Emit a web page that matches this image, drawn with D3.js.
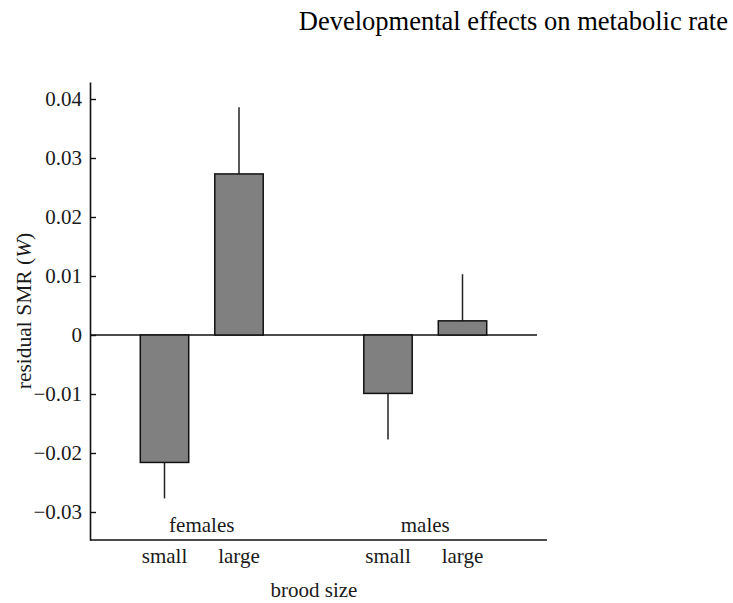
<!DOCTYPE html>
<html>
<head>
<meta charset="utf-8">
<script src="https://cdn.jsdelivr.net/npm/d3@7"></script>
<style>
  html, body { margin: 0; padding: 0; background: #fff; }
  svg { display: block; }
  text { font-family: "Liberation Serif", "Times New Roman", serif; fill: #111; }
</style>
</head>
<body>
<svg id="chart" width="733" height="603"></svg>
<script>
// Residual standard metabolic rate by sex and brood size
const sexes = ["females", "males"];
const broodSizes = ["small", "large"];
const femaleMeans = [-0.0216, 0.0273];
const maleMeans = [-0.0099, 0.0024];
const femaleSE = [0.0061, 0.0113];
const maleSE = [0.0078, 0.0079];
const yTicks = [-0.03, -0.02, -0.01, 0, 0.01, 0.02, 0.03, 0.04];

const rows = [];
sexes.forEach((sex, i) => {
  const means = i === 0 ? femaleMeans : maleMeans;
  const ses = i === 0 ? femaleSE : maleSE;
  broodSizes.forEach((b, j) => rows.push({ sex, brood: b, mean: means[j], se: ses[j] }));
});

const serif = "'Liberation Serif', 'Times New Roman', serif";
const svg = d3.select("#chart");
const plotLeft = 90, plotRight = 537, axisEnd = 547, plotTop = 82, plotBottom = 540;

const y = d3.scaleLinear().domain([-0.034746, 0.042881]).range([plotBottom, plotTop]);
const xGroup = d3.scalePoint().domain(sexes).range([plotLeft, plotRight]).padding(0.5);
const xInner = d3.scaleBand().domain(broodSizes).range([-74.5, 74.5])
  .paddingInner(0.35).paddingOuter(0.175);
const barX = d => xGroup(d.sex) + xInner(d.brood);
const barC = d => barX(d) + xInner.bandwidth() / 2;

// title
svg.append("text")
  .attr("x", 728).attr("y", 30)
  .attr("text-anchor", "end")
  .style("font-size", "26.5px")
  .style("fill", "#000")
  .text("Developmental effects on metabolic rate");

// y axis with inward ticks
const fmt = v => v === 0 ? "0" : (v < 0 ? "\u2212" : "") + Math.abs(v).toFixed(2);
const yAxis = d3.axisLeft(y).tickValues(yTicks).tickFormat(fmt)
  .tickSizeInner(-6).tickSizeOuter(0).tickPadding(8);
const gy = svg.append("g").attr("transform", `translate(${plotLeft},0)`).call(yAxis)
  .attr("font-family", serif).attr("font-size", 21);
gy.select(".domain").attr("stroke", "#111").attr("stroke-width", 1.6);
gy.selectAll(".tick line").attr("stroke", "#111").attr("stroke-width", 1.4);
gy.selectAll(".tick text")
  .style("font-family", serif)
  .style("font-size", "21px").style("fill", "#1a1a1a");

// bottom axis line
svg.append("line")
  .attr("x1", plotLeft).attr("x2", axisEnd)
  .attr("y1", plotBottom).attr("y2", plotBottom)
  .attr("stroke", "#111").attr("stroke-width", 1.6);

// zero reference line
svg.append("line")
  .attr("x1", plotLeft).attr("x2", plotRight)
  .attr("y1", y(0)).attr("y2", y(0))
  .attr("stroke", "#111").attr("stroke-width", 1.3);

// error bars (one-sided, away from zero)
svg.append("g").selectAll("line").data(rows).join("line")
  .attr("x1", barC).attr("x2", barC)
  .attr("y1", d => y(d.mean))
  .attr("y2", d => y(d.mean + Math.sign(d.mean) * d.se))
  .attr("stroke", "#222").attr("stroke-width", 1.5);

// bars
svg.append("g").selectAll("rect").data(rows).join("rect")
  .attr("x", barX)
  .attr("width", xInner.bandwidth())
  .attr("y", d => y(Math.max(0, d.mean)))
  .attr("height", d => Math.abs(y(d.mean) - y(0)))
  .attr("fill", "#808080")
  .attr("stroke", "#111").attr("stroke-width", 1.5);

// group labels
svg.append("g").selectAll("text").data(sexes).join("text")
  .attr("x", d => xGroup(d)).attr("y", 531.5)
  .attr("text-anchor", "middle")
  .style("font-size", "21px").style("fill", "#1a1a1a")
  .text(d => d);

// brood size labels
svg.append("g").selectAll("text").data(rows).join("text")
  .attr("x", barC).attr("y", 563)
  .attr("text-anchor", "middle")
  .style("font-size", "21px").style("fill", "#1a1a1a")
  .text(d => d.brood);

// axis titles
svg.append("text")
  .attr("x", 314).attr("y", 597)
  .attr("text-anchor", "middle")
  .style("font-size", "21px").style("fill", "#1a1a1a")
  .text("brood size");

const yl = svg.append("text")
  .attr("transform", `translate(31,${y(0) - 24}) rotate(-90)`)
  .attr("text-anchor", "middle")
  .style("font-size", "21.5px").style("fill", "#1a1a1a");
yl.append("tspan").text("residual SMR (");
yl.append("tspan").style("font-style", "italic").text("W");
yl.append("tspan").text(")");
</script>
</body>
</html>
